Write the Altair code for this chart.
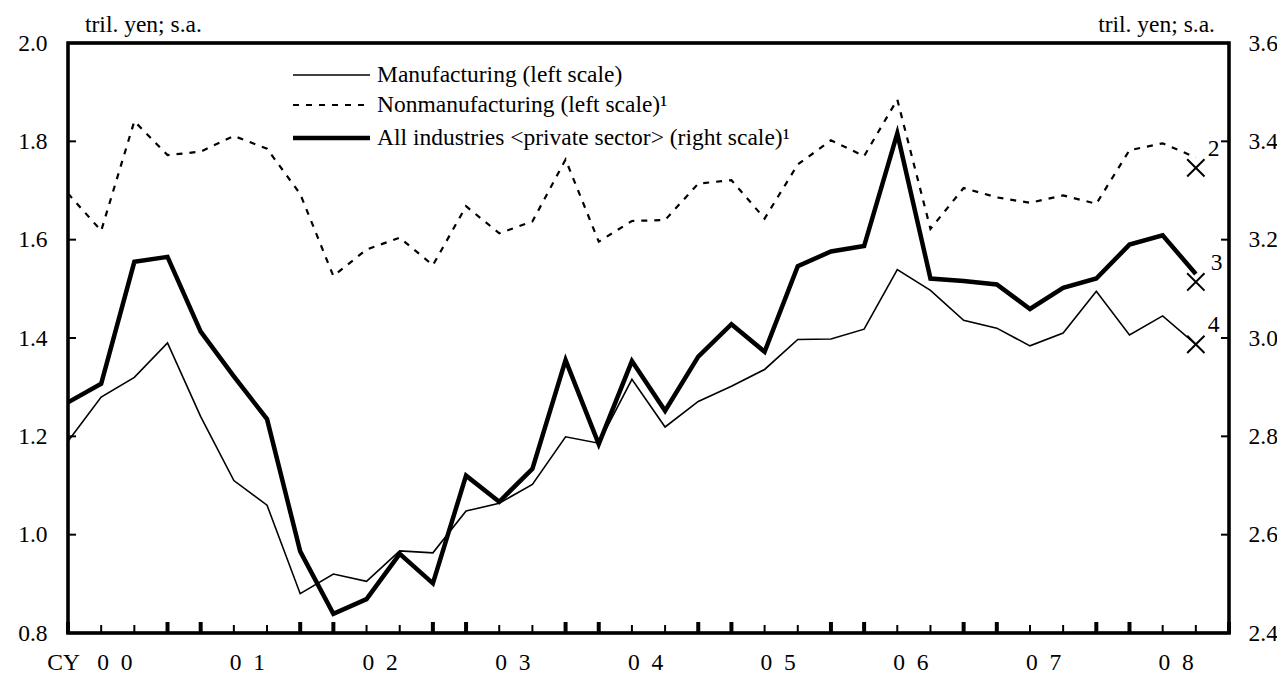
import altair as alt
import pandas as pd

# ---------------- data ----------------
quarters = list(range(35))  # CY2000 Q1 ... CY2008 Q3
manufacturing = [1.19, 1.28, 1.32, 1.39, 1.24, 1.11, 1.06, 0.88, 0.92,
                 0.905, 0.967, 0.963, 1.048, 1.064, 1.102, 1.199, 1.186, 1.316,
                 1.219, 1.271, 1.302, 1.336, 1.397, 1.398, 1.418, 1.539, 1.497,
                 1.436, 1.420, 1.384, 1.410, 1.495, 1.406, 1.445, 1.387]
nonmanufacturing = [1.694, 1.618, 1.841, 1.772, 1.779, 1.811, 1.785, 1.693, 1.526,
                    1.580, 1.604, 1.548, 1.668, 1.613, 1.637, 1.763, 1.596, 1.638,
                    1.640, 1.714, 1.721, 1.643, 1.753, 1.802, 1.770, 1.885, 1.622,
                    1.705, 1.686, 1.675, 1.690, 1.673, 1.782, 1.796, 1.767]
all_industries = [2.869, 2.907, 3.155, 3.165, 3.013, 2.922, 2.835, 2.566, 2.439,
                  2.469, 2.561, 2.501, 2.720, 2.667, 2.734, 2.955, 2.784, 2.953,
                  2.852, 2.962, 3.028, 2.972, 3.146, 3.176, 3.187, 3.416, 3.121,
                  3.116, 3.109, 3.059, 3.102, 3.121, 3.190, 3.209, 3.130]

# plans (crosses) at the last quarter
plan_quarter = 34
plan_left_values = [1.746, 1.387]      # nonmanufacturing, manufacturing
plan_left_labels = ["2", "4"]
plan_right_values = [3.114]            # all industries
plan_right_labels = ["3"]

years = ["00", "01", "02", "03", "04", "05", "06", "07", "08"]
left_ticks = [0.8, 1.0, 1.2, 1.4, 1.6, 1.8, 2.0]
right_ticks = [2.4, 2.6, 2.8, 3.0, 3.2, 3.4, 3.6]
x_ticks = list(range(36))

unit_text = "tril. yen; s.a."
legend_labels = ["Manufacturing (left scale)",
                 "Nonmanufacturing (left scale)\u00b9",
                 "All industries <private sector> (right scale)\u00b9"]

# ---------------- tables ----------------
NB = "\u00a0"
df_m = pd.DataFrame({"q": quarters, "v": manufacturing})
df_n = pd.DataFrame({"q": quarters, "v": nonmanufacturing})
df_a = pd.DataFrame({"q": quarters, "v": all_industries})
df_pl = pd.DataFrame({"q": [plan_quarter] * len(plan_left_values),
                      "v": plan_left_values, "t": plan_left_labels})
df_pr = pd.DataFrame({"q": [plan_quarter] * len(plan_right_values),
                      "v": plan_right_values, "t": plan_right_labels})
df_years = pd.DataFrame({"q": [4 * k + 1.5 for k in range(len(years))],
                         "t": [y[0] + NB + NB + y[1] for y in years]})
df_cy = pd.DataFrame({"q": [0], "t": ["CY"]})
df_xt = pd.DataFrame({"q": x_ticks,
                      "major": [(q % 4 in (0, 3)) or q == 35 for q in x_ticks]})
df_lt = pd.DataFrame({"v": left_ticks})
df_rt = pd.DataFrame({"v": right_ticks})

W, H = 1161, 590
FONT = "Times New Roman, Liberation Serif, serif"
FS = 23.5

xs = alt.Scale(domain=[0, 35], nice=False, zero=False)
ls = alt.Scale(domain=[0.8, 2.0], nice=False, zero=False)
rs = alt.Scale(domain=[2.4, 3.6], nice=False, zero=False)
X = alt.X("q:Q", scale=xs, axis=None)
YL = alt.Y("v:Q", scale=ls, axis=None)
YR = alt.Y("v:Q", scale=rs, axis=None)

left_axis = alt.Axis(orient="left", values=left_ticks, format=".1f", ticks=False,
                     tickSize=0, domain=False, grid=False, labelFont=FONT,
                     labelFontSize=FS, labelColor="black", labelPadding=21, title=None)
right_axis = alt.Axis(orient="right", values=right_ticks, format=".1f", ticks=False,
                      tickSize=0, domain=False, grid=False, labelFont=FONT,
                      labelFontSize=FS, labelColor="black", labelPadding=19, title=None)

# ---------------- layers ----------------
frame = alt.Chart(pd.DataFrame({"t": ["frame"]})).mark_rect(
    fillOpacity=0, stroke="black", strokeWidth=3.4, strokeOpacity=1).encode(
    x=alt.value(0), x2=alt.value(W), y=alt.value(0), y2=alt.value(H))

manu = alt.Chart(df_m).mark_line(color="black", strokeWidth=1.6).encode(
    x=X, y=alt.Y("v:Q", scale=ls, axis=left_axis))
nonm = alt.Chart(df_n).mark_line(color="black", strokeWidth=2.2, strokeDash=[6, 7]).encode(
    x=X, y=YL)
alli = alt.Chart(df_a).mark_line(color="black", strokeWidth=4.5).encode(
    x=X, y=alt.Y("v:Q", scale=rs, axis=right_axis))

xpath = "M -1 -1 L 1 1 M -1 1 L 1 -1"
cross_l = alt.Chart(df_pl).mark_point(shape=xpath, size=300, color="black",
                                      strokeWidth=2, filled=False, opacity=1).encode(x=X, y=YL)
cross_r = alt.Chart(df_pr).mark_point(shape=xpath, size=300, color="black",
                                      strokeWidth=2, filled=False, opacity=1).encode(x=X, y=YR)
ctext_l = alt.Chart(df_pl).mark_text(font=FONT, fontSize=FS, color="black", align="left",
                                     baseline="middle", dx=12, dy=-19).encode(x=X, y=YL, text="t:N")
ctext_r = alt.Chart(df_pr).mark_text(font=FONT, fontSize=FS, color="black", align="left",
                                     baseline="middle", dx=15, dy=-19).encode(x=X, y=YR, text="t:N")

# inward ticks
xt_minor = alt.Chart(df_xt).transform_filter("!datum.major").mark_rule(
    color="black", strokeWidth=2).encode(x=X, y=alt.value(H), y2=alt.value(H - 8))
xt_major = alt.Chart(df_xt).transform_filter("datum.major").mark_rule(
    color="black", strokeWidth=4).encode(x=X, y=alt.value(H + 1), y2=alt.value(H - 11))
lt = alt.Chart(df_lt).mark_rule(color="black", strokeWidth=2).encode(
    y=YL, x=alt.value(0), x2=alt.value(8))
rt = alt.Chart(df_rt).mark_rule(color="black", strokeWidth=2).encode(
    y=YR, x=alt.value(W - 8), x2=alt.value(W))

# x labels
year_text = alt.Chart(df_years).mark_text(font=FONT, fontSize=FS, color="black",
                                          align="center", baseline="alphabetic", dx=-3).encode(
    x=X, y=alt.value(H + 37), text="t:N")
cy_text = alt.Chart(df_cy).mark_text(font=FONT, fontSize=FS, color="black",
                                     align="right", baseline="alphabetic", dx=12).encode(
    x=X, y=alt.value(H + 37), text="t:N")

# unit labels
unit_l = alt.Chart(pd.DataFrame({"t": [unit_text]})).mark_text(
    font=FONT, fontSize=FS, color="black", align="left", baseline="alphabetic").encode(
    x=alt.value(17), y=alt.value(-11), text="t:N")
unit_r = alt.Chart(pd.DataFrame({"t": [unit_text]})).mark_text(
    font=FONT, fontSize=FS, color="black", align="right", baseline="alphabetic").encode(
    x=alt.value(W - 14), y=alt.value(-11), text="t:N")

# legend
leg_rows = [32, 62, 95]
leg_layers = []
leg_styles = [dict(strokeWidth=1.6), dict(strokeWidth=2.2, strokeDash=[6, 7]), dict(strokeWidth=4.5)]
for lab, yy, st in zip(legend_labels, leg_rows, leg_styles):
    d = pd.DataFrame({"t": [lab]})
    leg_layers.append(alt.Chart(d).mark_rule(color="black", **st).encode(
        x=alt.value(225), x2=alt.value(302), y=alt.value(yy)))
    leg_layers.append(alt.Chart(d).mark_text(font=FONT, fontSize=FS, color="black",
                                             align="left", baseline="middle").encode(
        x=alt.value(309), y=alt.value(yy), text="t:N"))

chart = alt.layer(
    manu, alli, frame, nonm, cross_l, cross_r, ctext_l, ctext_r,
    xt_minor, xt_major, lt, rt, year_text, cy_text, unit_l, unit_r, *leg_layers
).resolve_scale(y="independent").properties(
    width=W, height=H,
    autosize=alt.AutoSizeParams(type="none"),
    padding={"left": 60, "top": 35, "right": 48, "bottom": 43},
).configure_view(stroke="black", strokeWidth=2.6)

chart.save("out.html", embed_options={"renderer": "svg", "actions": False})
